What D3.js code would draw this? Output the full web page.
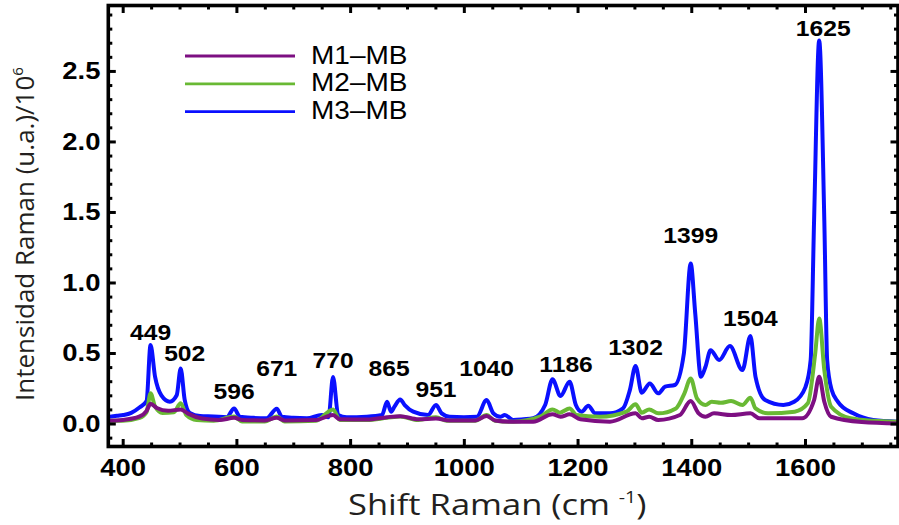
<!DOCTYPE html>
<html>
<head>
<meta charset="utf-8">
<script src="https://cdn.jsdelivr.net/npm/d3@7"></script>
<style>
  body { margin: 0; background: #fff; }
  svg { display: block; }
</style>
</head>
<body>
<svg id="chart" width="899" height="525"></svg>
<script>
// Raman spectra of the three samples (intensity in 10^6 a.u.)
const seriesNames = ["M1–MB", "M2–MB", "M3–MB"];
const seriesColors = ["#7d0f82", "#69b934", "#0a10ff"];

const m1Shift = [372, 400, 430, 442, 449, 460, 480, 502, 515, 540, 570, 596, 610, 650, 671, 685, 740, 770, 782, 830, 865, 888, 920, 951, 975, 1020, 1040, 1055, 1090, 1122, 1156, 1170, 1186, 1205, 1257, 1302, 1313, 1326, 1342, 1380, 1399, 1413, 1425, 1440, 1470, 1504, 1520, 1595, 1616, 1625, 1634, 1646, 1700, 1764];
const m1Intensity = [0.02, 0.025, 0.05, 0.09, 0.14, 0.11, 0.09, 0.1, 0.07, 0.035, 0.025, 0.04, 0.025, 0.022, 0.04, 0.022, 0.025, 0.06, 0.03, 0.028, 0.045, 0.052, 0.03, 0.035, 0.022, 0.022, 0.053, 0.022, 0.012, 0.013, 0.065, 0.048, 0.065, 0.03, 0.013, 0.072, 0.037, 0.048, 0.025, 0.06, 0.159, 0.072, 0.048, 0.072, 0.06, 0.072, 0.037, 0.037, 0.166, 0.331, 0.154, 0.048, 0.01, 0.0];

const m2Shift = [372, 400, 430, 442, 449, 457, 470, 490, 502, 512, 530, 560, 596, 610, 650, 671, 685, 740, 770, 782, 830, 865, 888, 920, 951, 970, 1020, 1040, 1055, 1087, 1134, 1156, 1169, 1186, 1198, 1239, 1286, 1302, 1313, 1326, 1342, 1373, 1388, 1399, 1410, 1425, 1436, 1452, 1470, 1490, 1504, 1513, 1535, 1582, 1605, 1618, 1625, 1634, 1646, 1680, 1720, 1764];
const m2Intensity = [0.02, 0.02, 0.04, 0.08, 0.214, 0.12, 0.075, 0.08, 0.143, 0.06, 0.025, 0.02, 0.05, 0.015, 0.015, 0.05, 0.015, 0.02, 0.1, 0.025, 0.025, 0.04, 0.05, 0.025, 0.045, 0.02, 0.02, 0.06, 0.02, 0.013, 0.048, 0.1, 0.077, 0.107, 0.06, 0.048, 0.084, 0.136, 0.077, 0.1, 0.072, 0.107, 0.214, 0.32, 0.178, 0.131, 0.154, 0.147, 0.159, 0.131, 0.183, 0.107, 0.072, 0.084, 0.143, 0.497, 0.745, 0.379, 0.119, 0.037, 0.02, 0.013];

const m3Shift = [372, 390, 401, 415, 430, 442, 449, 457, 468, 483, 495, 502, 509, 518, 536, 560, 583, 596, 606, 630, 653, 671, 680, 700, 724, 750, 762, 770, 779, 794, 829, 856, 865, 872, 878, 888, 896, 911, 937, 951, 961, 975, 1000, 1023, 1040, 1052, 1064, 1072, 1087, 1105, 1122, 1143, 1156, 1170, 1186, 1197, 1207, 1219, 1231, 1257, 1280, 1292, 1302, 1313, 1327, 1342, 1354, 1371, 1387, 1399, 1407, 1417, 1425, 1434, 1449, 1468, 1490, 1504, 1513, 1530, 1562, 1581, 1601, 1610, 1616, 1625, 1634, 1639, 1647, 1658, 1685, 1720, 1764];
const m3Intensity = [0.045, 0.055, 0.06, 0.075, 0.115, 0.16, 0.556, 0.33, 0.2, 0.155, 0.2, 0.39, 0.17, 0.075, 0.053, 0.05, 0.045, 0.107, 0.048, 0.04, 0.037, 0.105, 0.048, 0.04, 0.037, 0.06, 0.044, 0.33, 0.06, 0.044, 0.048, 0.06, 0.154, 0.084, 0.12, 0.171, 0.131, 0.084, 0.06, 0.131, 0.072, 0.048, 0.045, 0.048, 0.166, 0.072, 0.048, 0.06, 0.025, 0.03, 0.037, 0.131, 0.313, 0.195, 0.296, 0.131, 0.084, 0.126, 0.072, 0.072, 0.107, 0.237, 0.407, 0.218, 0.284, 0.214, 0.261, 0.273, 0.497, 1.134, 0.78, 0.331, 0.402, 0.52, 0.45, 0.549, 0.379, 0.62, 0.331, 0.166, 0.131, 0.154, 0.26, 0.45, 1.44, 2.716, 1.44, 0.45, 0.237, 0.154, 0.072, 0.025, 0.013];

const shiftTicks = [400, 600, 800, 1000, 1200, 1400, 1600];
const intensityTicks = [0, 0.5, 1.0, 1.5, 2.0, 2.5];
const peakLabels = [449, 502, 596, 671, 770, 865, 951, 1040, 1186, 1302, 1399, 1504, 1625];

// ---------- layout ----------
const frame = { left: 108.3, right: 898, top: 5.5, bottom: 446.5 };
const stretch = "scale(1.12,1)";
const boldFont = "'Liberation Sans', Arial, sans-serif";
const titleFont = "'Open Sans', 'Noto Sans', sans-serif";

const svg = d3.select("#chart");

const x = d3.scaleLinear().domain([374.7, 1763.6]).range([frame.left, frame.right]);
const y = d3.scaleLinear().domain([-0.163, 2.964]).range([frame.bottom, frame.top]);

const series = [
  { name: seriesNames[0], color: seriesColors[0], pts: d3.zip(m1Shift, m1Intensity) },
  { name: seriesNames[1], color: seriesColors[1], pts: d3.zip(m2Shift, m2Intensity) },
  { name: seriesNames[2], color: seriesColors[2], pts: d3.zip(m3Shift, m3Intensity) }
];

// clip the curves to the frame
svg.append("defs").append("clipPath").attr("id", "plotClip")
  .append("rect")
  .attr("x", frame.left).attr("y", frame.top)
  .attr("width", frame.right - frame.left).attr("height", frame.bottom - frame.top);

const line = d3.line().x(d => x(d[0])).y(d => y(d[1])).curve(d3.curveMonotoneX);

// M3 underneath, M1 on top
svg.append("g").attr("clip-path", "url(#plotClip)")
  .selectAll("path")
  .data(series.slice().reverse())
  .join("path")
  .attr("d", d => line(d.pts))
  .attr("fill", "none")
  .attr("stroke", d => d.color)
  .attr("stroke-width", 4)
  .attr("stroke-linejoin", "round")
  .attr("stroke-linecap", "round");

// ---------- axes (ticks point inward on all four sides) ----------
const minorShift = d3.range(400, 1764, 50).filter(v => v % 200 !== 0);
const minorIntensity = d3.range(-0.1, 2.95, 0.1).map(v => +v.toFixed(1)).filter(v => Math.abs(v * 2 - Math.round(v * 2)) > 1e-6);

function styleAxis(g) {
  g.select(".domain").remove();
  g.selectAll(".tick line").attr("stroke", "#000").attr("stroke-width", 3);
}

const tickFontSize = 24.5;

// bottom
svg.append("g").attr("transform", `translate(0,${frame.bottom})`)
  .call(d3.axisBottom(x).tickValues(shiftTicks).tickSizeInner(-7.5).tickSizeOuter(0).tickPadding(12.5).tickFormat(d3.format("d")))
  .call(styleAxis)
  .call(g => g.selectAll("text")
    .attr("font-family", boldFont).attr("font-weight", "bold").attr("font-size", tickFontSize)
    .attr("fill", "#000").attr("transform", stretch));
svg.append("g").attr("transform", `translate(0,${frame.bottom})`)
  .call(d3.axisBottom(x).tickValues(minorShift).tickSizeInner(-4).tickSizeOuter(0).tickFormat(""))
  .call(styleAxis);

// top
svg.append("g").attr("transform", `translate(0,${frame.top})`)
  .call(d3.axisTop(x).tickValues(shiftTicks).tickSizeInner(-7.5).tickSizeOuter(0).tickFormat(""))
  .call(styleAxis);
svg.append("g").attr("transform", `translate(0,${frame.top})`)
  .call(d3.axisTop(x).tickValues(minorShift).tickSizeInner(-4).tickSizeOuter(0).tickFormat(""))
  .call(styleAxis);

// left
svg.append("g").attr("transform", `translate(${frame.left},0)`)
  .call(d3.axisLeft(y).tickValues(intensityTicks).tickSizeInner(-7.5).tickSizeOuter(0).tickPadding(7).tickFormat(d3.format(".1f")))
  .call(styleAxis)
  .call(g => g.selectAll("text")
    .attr("font-family", boldFont).attr("font-weight", "bold").attr("font-size", tickFontSize)
    .attr("fill", "#000").attr("transform", stretch));
svg.append("g").attr("transform", `translate(${frame.left},0)`)
  .call(d3.axisLeft(y).tickValues(minorIntensity).tickSizeInner(-4).tickSizeOuter(0).tickFormat(""))
  .call(styleAxis);

// right
svg.append("g").attr("transform", `translate(${frame.right},0)`)
  .call(d3.axisRight(y).tickValues(intensityTicks).tickSizeInner(-7.5).tickSizeOuter(0).tickFormat(""))
  .call(styleAxis);
svg.append("g").attr("transform", `translate(${frame.right},0)`)
  .call(d3.axisRight(y).tickValues(minorIntensity).tickSizeInner(-4).tickSizeOuter(0).tickFormat(""))
  .call(styleAxis);

// frame
svg.append("rect")
  .attr("x", frame.left).attr("y", frame.top)
  .attr("width", frame.right - frame.left).attr("height", frame.bottom - frame.top)
  .attr("fill", "none").attr("stroke", "#000").attr("stroke-width", 3.6);

// ---------- peak annotations (placed above the M3 curve) ----------
const labelLift = { 449: 5, 502: 8, 596: 9, 671: 33, 770: 9, 865: 26, 951: 8, 1040: 24, 1186: 10, 1302: 11, 1399: 21, 1504: 10, 1625: 4 };
const labelShiftX = { 502: 4, 865: 2, 1186: -3.5, 1625: 4 };
const m3At = v => m3Intensity[m3Shift.indexOf(v)];

svg.append("g").selectAll("text")
  .data(peakLabels)
  .join("text")
  .attr("transform", d => `translate(${x(d) + (labelShiftX[d] || 0)},${y(m3At(d)) - labelLift[d]}) ${stretch}`)
  .attr("text-anchor", "middle")
  .attr("font-family", boldFont).attr("font-weight", "bold").attr("font-size", 22)
  .attr("fill", "#000")
  .text(d => d);

// ---------- legend ----------
const legend = svg.append("g");
series.forEach((s, i) => {
  const cy = 56 + i * 27.8;
  legend.append("line")
    .attr("x1", 185).attr("x2", 295).attr("y1", cy).attr("y2", cy)
    .attr("stroke", s.color).attr("stroke-width", 2.8);
  legend.append("text")
    .attr("transform", `translate(311,${cy + 7.5}) ${stretch}`)
    .attr("font-family", boldFont).attr("font-size", 25).attr("fill", "#000")
    .text(s.name);
});

// ---------- axis titles ----------
const yTitle = svg.append("text")
  .attr("transform", "translate(34,401) rotate(-90)")
  .attr("font-family", titleFont).attr("font-size", 26).attr("fill", "#231f20");
yTitle.append("tspan").text("Intensidad Raman (u.a.)/10");
yTitle.append("tspan").attr("dy", -11).attr("font-size", 15).text("6");

const xTitle = svg.append("text")
  .attr("transform", "translate(348,514.5) scale(1.15,1)")
  .attr("font-family", titleFont).attr("font-size", 30).attr("fill", "#231f20");
xTitle.append("tspan").text("Shift Raman (cm ");
xTitle.append("tspan").attr("dy", -12).attr("font-size", 17).text("-1");
xTitle.append("tspan").attr("dy", 12).text(")");
</script>
</body>
</html>
